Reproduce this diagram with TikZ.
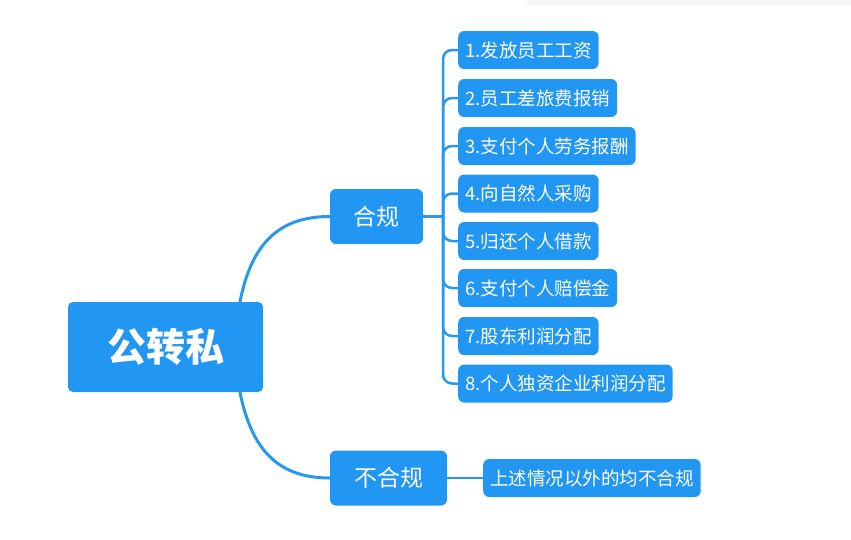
\documentclass[tikz,border=0pt]{standalone}
\usepackage{fontspec}
\setmainfont{Noto Sans CJK SC}
\usetikzlibrary{calc}
\definecolor{boxblue}{RGB}{33,150,243}
\definecolor{lineblue}{RGB}{40,152,238}
\definecolor{topbar}{RGB}{243,244,246}
\tikzset{
  x=1pt,y=-1pt,
  rootbox/.style={fill=boxblue,rounded corners=5pt,text=white,font=\fontsize{39}{44}\selectfont\bfseries,minimum width=195pt,minimum height=90pt,inner sep=0pt},
  midbox/.style={fill=boxblue,rounded corners=6pt,text=white,font=\fontsize{23}{27}\selectfont,minimum height=55pt,inner sep=0pt},
  leafbox/.style={fill=boxblue,rounded corners=6pt,text=white,font=\fontsize{18.5}{22}\selectfont,minimum height=38pt,inner xsep=7pt,inner ysep=0pt,anchor=west},
  conn/.style={draw=lineblue,line width=3pt},
  busline/.style={draw=lineblue,line width=2.5pt,rounded corners=9pt},
}
\begin{document}
\begin{tikzpicture}
\useasboundingbox (0,0) rectangle (851,539);
\fill[topbar] (527,0) rectangle (851,5);
\node[rootbox] (root) at (165.5,347) {公转私};
\node[midbox,minimum width=93pt] (hg) at (376.5,216.5) {合规};
\node[midbox,minimum width=117pt] (bhg) at (388.5,478) {不合规};
\coordinate (rt) at (240,302);
\coordinate (rb) at (240,392);
\draw[conn] (rt) .. controls (252,240) and (282,216.5) .. (hg.west);
\draw[conn] (rb) .. controls (252,454) and (282,478) .. (bhg.west);
\node[leafbox] (c1) at (458,50) {1.发放员工工资};
\node[leafbox] (c2) at (458,98) {2.员工差旅费报销};
\node[leafbox] (c3) at (458,146) {3.支付个人劳务报酬};
\node[leafbox] (c4) at (458,193.5) {4.向自然人采购};
\node[leafbox] (c5) at (458,241) {5.归还个人借款};
\node[leafbox] (c6) at (458,288) {6.支付个人赔偿金};
\node[leafbox] (c7) at (458,336) {7.股东利润分配};
\node[leafbox] (c8) at (458,383.5) {8.个人独资企业利润分配};
\node[leafbox] (d1) at (483,478) {上述情况以外的均不合规};
\coordinate (bus) at (443,216.5);
\draw[conn,line width=2.5pt] (hg.east) -- (bus);
\foreach \c in {c1,c2,c3,c4,c5,c6,c7,c8}{
  \draw[busline] (bus) |- (\c.west);
}
\draw[conn,line width=2.5pt] (bhg.east) -- (d1.west);
\end{tikzpicture}
\end{document}
